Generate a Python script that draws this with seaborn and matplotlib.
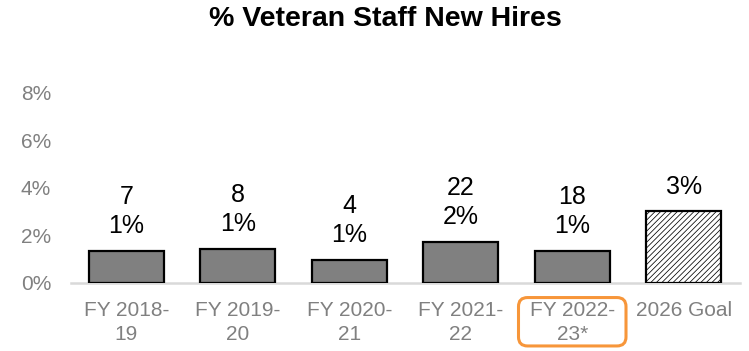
import matplotlib
matplotlib.use("Agg")
import matplotlib.pyplot as plt
from matplotlib.patches import FancyBboxPatch
from matplotlib.transforms import IdentityTransform
import seaborn as sns
import pandas as pd

# Data
categories = ["FY 2018-\n19", "FY 2019-\n20", "FY 2020-\n21", "FY 2021-\n22", "FY 2022-\n23*", "2026 Goal"]
pct_hires = [0.0135, 0.0142, 0.0097, 0.0171, 0.0133, 0.030]
num_hires = [7, 8, 4, 22, 18, None]
yticks = [0, 0.02, 0.04, 0.06, 0.08]

BAR_GREY = "#808080"
TEXT_GREY = "#808080"
ORANGE = "#F7963A"

sns.set_theme(style="white")
plt.rcParams["font.family"] = ["Liberation Sans", "DejaVu Sans"]
plt.rcParams["hatch.linewidth"] = 0.55
plt.rcParams["hatch.color"] = "black"

df = pd.DataFrame({"period": categories, "pct": pct_hires})

fig = plt.figure(figsize=(7.49, 3.51), dpi=100)
ax = fig.add_axes([70.5 / 749, 68.5 / 351, 669 / 749, 189.5 / 351])

palette = {c: BAR_GREY for c in categories}
palette[categories[-1]] = "white"
sns.barplot(data=df, x="period", y="pct", hue="period", palette=palette,
            width=0.67, edgecolor="black", linewidth=1.6, legend=False,
            saturation=1, ax=ax)

# Goal bar is hatched
goal_bar = ax.patches[-1]
goal_bar.set_hatch("//////")

ax.set_xlim(-0.5, len(categories) - 0.5)
ax.set_ylim(0, 0.08)
ax.set_yticks(yticks)
ax.set_yticklabels([f"{t:.0%}" for t in yticks])
ax.set_xlabel("")
ax.set_ylabel("")

for side in ["top", "right", "left"]:
    ax.spines[side].set_visible(False)
ax.spines["bottom"].set_color("#D9D9D9")
ax.spines["bottom"].set_linewidth(1.8)
ax.spines["bottom"].set_zorder(0)

ax.tick_params(axis="y", length=0, pad=14, labelsize=15, labelcolor=TEXT_GREY)
ax.tick_params(axis="x", length=0, pad=13, labelsize=15, labelcolor=TEXT_GREY)
for lbl in ax.get_xticklabels():
    lbl.set_linespacing(1.36)

# Value labels above bars
for i, (p, n) in enumerate(zip(pct_hires, num_hires)):
    label = f"{p:.0%}" if n is None else f"{n}\n{p:.0%}"
    ax.annotate(label, xy=(i, p), xytext=(0, 9), textcoords="offset points",
                ha="center", va="bottom", fontsize=18, color="black",
                linespacing=1.28)

# Title
fig.text(385 / 749, 1 - 26 / 351, "% Veteran Staff New Hires", ha="center",
         va="baseline", fontsize=20.5, fontweight="bold", color="black")

# Highlight box around the latest fiscal year label
fig.canvas.draw()
hl = 4
x0 = ax.transData.transform((hl - 0.5, 0))[0]
x1 = ax.transData.transform((hl + 0.5, 0))[0]
ext = ax.get_xticklabels()[hl].get_window_extent()
y0, y1 = ext.y0 - 2, ext.y1 + 3
box = FancyBboxPatch((x0 + 2, y0), (x1 - x0) - 4, y1 - y0,
                     boxstyle="round,pad=0,rounding_size=9",
                     transform=IdentityTransform(), facecolor="none",
                     edgecolor=ORANGE, linewidth=2.2, clip_on=False)
fig.add_artist(box)

fig.savefig("out.png", dpi=100)
